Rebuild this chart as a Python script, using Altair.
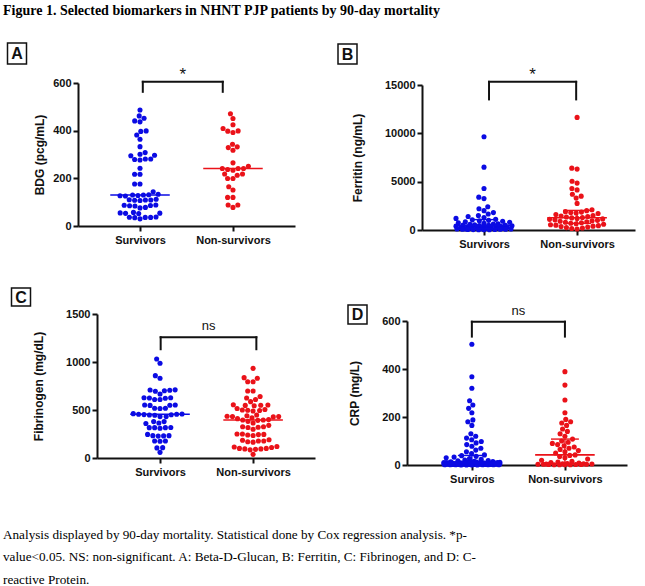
import math
import pandas as pd
import altair as alt

BLUE = "#0b0be3"
RED = "#ea1219"
FONT = "Liberation Sans"
SERIF = "Liberation Serif"
FIG_W, FIG_H = 645, 586

GROUPS = ["Survivors", "Non-survivors"]

# ---------------- data ----------------
BDG_SURV = [487, 462, 452, 441, 437, 399, 397, 382, 364, 333, 308, 301, 297, 295,
            281, 281, 279, 277, 242, 217, 217, 176, 176, 144, 133, 131, 130, 130,
            128, 127, 126, 112, 110, 109, 109, 108, 107, 88, 87, 86, 85, 84, 78, 76,
            57, 55, 54, 53, 52, 38, 37, 36, 36, 35, 30]
BDG_NONS = [471, 451, 425, 409, 399, 398, 392, 343, 332, 329, 318, 265, 251, 241,
            241, 241, 237, 234, 218, 218, 213, 199, 199, 165, 151, 120, 120, 88, 88, 78]

FER_SURV = [9650, 6500, 4300, 3400, 3250, 2400, 2200, 2000, 1800, 1650, 1500, 1400,
            1300, 1200, 1100, 1050, 1000, 950, 900, 850, 800, 750, 700, 650, 620,
            580, 550, 520, 500, 480, 450, 430, 400, 380, 360, 340, 320, 300, 280,
            260, 240, 220, 200, 180, 160, 150, 140, 120, 110, 100, 90, 80, 70, 60,
            50, 40, 30, 25, 20]
FER_NONS = [11650, 6400, 6300, 5050, 4850, 4300, 4150, 3700, 3500, 3300, 2750, 2100,
            2000, 1900, 1850, 1800, 1750, 1700, 1600, 1500, 1450, 1400, 1350, 1300,
            1250, 1200, 1150, 1100, 1050, 1000, 950, 900, 850, 800, 750, 700, 650,
            600, 550, 500, 450, 400, 350, 300, 250, 200, 150, 100]

FIB_SURV = [1031, 987, 858, 830, 710, 708, 705, 700, 695, 667, 628, 628, 625, 622,
            610, 610, 552, 552, 550, 548, 518, 518, 515, 462, 458, 455, 455, 452,
            450, 448, 445, 431, 431, 379, 379, 365, 360, 318, 316, 316, 316, 310,
            246, 233, 233, 230, 228, 177, 177, 175, 108, 105, 59]
FIB_NONS = [934, 837, 830, 795, 795, 698, 698, 640, 625, 610, 587, 555, 552, 550,
            548, 545, 515, 505, 500, 498, 495, 490, 448, 440, 435, 431, 431, 428,
            420, 410, 400, 396, 396, 392, 382, 365, 340, 326, 326, 320, 318, 300,
            250, 250, 246, 244, 240, 235, 190, 185, 177, 177, 170, 165, 120, 115,
            110, 100, 100, 95, 95, 90, 85, 38]

CRP_SURV = [503, 368, 320, 268, 250, 236, 218, 188, 180, 165, 130, 120, 112, 105,
            98, 92, 85, 78, 70, 62, 55, 48, 42, 39, 36, 33, 30, 27, 24, 21, 19, 17,
            15, 14, 13, 12, 12, 11, 10, 10, 9, 9, 8, 8, 8, 7, 7, 7, 6, 6, 6, 5, 5,
            5, 5, 4, 4, 4, 4, 3, 3, 3, 3, 2, 2, 2, 2, 1, 1, 1, 1, 1, 0.5, 0.5, 0.5,
            11, 10, 9, 8, 7, 6, 6, 5, 4, 4, 3, 3, 2, 2, 1, 1, 0.5]
CRP_NONS = [389, 333, 271, 218, 190, 180, 175, 165, 150, 140, 130, 120, 108, 100,
            95, 90, 85, 80, 75, 70, 65, 60, 55, 50, 42, 40, 35, 30, 25, 20, 15, 12,
            10, 8, 6, 5, 5, 4, 4, 3, 3, 3, 2, 2, 2, 1, 1, 1, 1]

TITLE = "Figure 1. Selected biomarkers in NHNT PJP patients by 90-day mortality"
CAPTION = ("Analysis displayed by 90-day mortality. Statistical done by Cox regression analysis. *p-\n"
           "value<0.05. NS: non-significant. A: Beta-D-Glucan, B: Ferritin, C: Fibrinogen, and D: C-\n"
           "reactive Protein.")


def swarm(vals, ppv, d=5.4, limit=28.0):
    """Beeswarm offsets (pixels) computed from the values."""
    ys = [v * ppv for v in vals]
    order = sorted(range(len(vals)), key=lambda i: ys[i])
    placed = []
    out = [0.0] * len(vals)
    for i in order:
        y = ys[i]
        near = [(px, py) for (px, py) in placed if abs(py - y) < d]
        cands = [0.0]
        for px, py in near:
            dx = math.sqrt(max(d * d - (py - y) ** 2, 0.0))
            cands += [px + dx, px - dx]
        ok = [c for c in cands if abs(c) <= limit + 1e-9 and
              all((c - px) ** 2 + (py - y) ** 2 >= d * d - 1e-6 for px, py in near)]
        if ok:
            x = min(ok, key=lambda c: (abs(c), c))
        else:
            grid = [limit * (k / 12.0 - 1.0) for k in range(25)]
            x = max(grid, key=lambda c: (min((c - px) ** 2 + (py - y) ** 2 for px, py in near), -abs(c)))
        placed.append((x, y))
        out[i] = x
    return out


def panel(surv, nons, xlabels, ytitle, yvals, xr, yr, xdom, tpad, bracket, sig, sig_size, iqr):
    """xr = pixel range of the x scale, yr = (bottom, top) pixel range of the y scale."""
    ymax = yvals[-1]
    W = xr[1] - xr[0]
    H = yr[0] - yr[1]
    ppv = H / ymax
    pxu = W / (xdom[1] - xdom[0])
    rows = []
    for g, vals in enumerate([surv, nons]):
        offs = swarm(vals, ppv)
        for v, o in zip(vals, offs):
            rows.append({"g": g, "v": v, "xp": g + o / pxu, "grp": GROUPS[g]})
    df = pd.DataFrame(rows)
    base = alt.Chart(df)
    color = alt.Color("grp:N", scale=alt.Scale(domain=GROUPS, range=[BLUE, RED]), legend=None)
    label_expr = "datum.value == 0 ? '%s' : '%s'" % (xlabels[0], xlabels[1])
    xscale = alt.Scale(domain=xdom, range=list(xr), nice=False, zero=False)
    yscale = alt.Scale(domain=[0, ymax], range=list(yr), nice=False)
    xaxis = alt.Axis(values=[0, 1], labelExpr=label_expr, title=None, labelPadding=3,
                     orient="bottom", offset=yr[0] - FIG_H)
    yaxis = alt.Axis(values=yvals, title=ytitle, titlePadding=tpad, format="d",
                     orient="left", offset=-xr[0])

    def X(f):
        return alt.X(f, scale=xscale, axis=xaxis)

    def Y(f):
        return alt.Y(f, scale=yscale, axis=yaxis)

    pts = base.mark_circle(size=26, opacity=1).encode(x=X("xp:Q"), y=Y("v:Q"), color=color)

    stats = base.transform_aggregate(
        med="median(v)", q1="q1(v)", q3="q3(v)", groupby=["g", "grp"]
    ).transform_calculate(
        xa="datum.g - 0.32", xb="datum.g + 0.32",
        xc="datum.g - 0.15", xd="datum.g + 0.15",
    )
    layers = [pts]
    layers.append(stats.mark_rule(strokeWidth=1.6).encode(
        x=X("xa:Q"), x2="xb:Q", y=Y("med:Q"), color=color))
    if iqr:
        layers.append(stats.mark_rule(strokeWidth=1.4).encode(
            x=X("xc:Q"), x2="xd:Q", y=Y("q1:Q"), color=color))
        layers.append(stats.mark_rule(strokeWidth=1.4).encode(
            x=X("xc:Q"), x2="xd:Q", y=Y("q3:Q"), color=color))
        layers.append(stats.mark_rule(strokeWidth=1.4).encode(
            x=X("g:Q"), y=Y("q1:Q"), y2="q3:Q", color=color))

    bx0, bx1, ytop, yleg, ysig = bracket
    br = alt.Chart(pd.DataFrame({"x0": [bx0], "x1": [bx1], "yt": [ytop], "yl": [yleg],
                                 "xm": [(bx0 + bx1) / 2], "ys": [ysig], "t": [sig]}))
    layers.append(br.mark_rule(strokeWidth=2, color="#111111", strokeCap="square").encode(
        x=X("x0:Q"), x2="x1:Q", y=Y("yt:Q")))
    layers.append(br.mark_rule(strokeWidth=2, color="#111111", strokeCap="square").encode(
        x=X("x0:Q"), y=Y("yl:Q"), y2="yt:Q"))
    layers.append(br.mark_rule(strokeWidth=2, color="#111111", strokeCap="square").encode(
        x=X("x1:Q"), y=Y("yl:Q"), y2="yt:Q"))
    layers.append(br.mark_text(font=FONT, fontSize=sig_size, color="#111111",
                               baseline="alphabetic", align="center").encode(
        x=X("xm:Q"), y=Y("ys:Q"), text="t:N"))
    return alt.layer(*layers)


def letter_box(letter, box):
    one = alt.Chart(pd.DataFrame({"t": [letter]}))
    rect = one.mark_rect(fill="white", stroke="#111111", strokeWidth=1.5).encode(
        x=alt.value(box[0]), x2=alt.value(box[1]), y=alt.value(box[2]), y2=alt.value(box[3]))
    txt = one.mark_text(font=FONT, fontSize=16, fontWeight="bold", color="#111111",
                        align="center", baseline="middle").encode(
        x=alt.value((box[0] + box[1]) / 2), y=alt.value((box[2] + box[3]) / 2 + 0.5),
        text="t:N")
    return [rect, txt]


pA = panel(BDG_SURV, BDG_NONS, GROUPS, "BDG (pcg/mL)", [0, 200, 400, 600],
           (78, 295), (226, 83), [-0.667, 1.667], 6, (0.03, 0.89, 605, 563, 612), "*", 17, False)
pB = panel(FER_SURV, FER_NONS, GROUPS, "Ferritin (ng/mL)", [0, 5000, 10000, 15000],
           (422, 635), (230, 85), [-0.666, 1.622], 20, (0.054, 0.99, 15330, 13510, 15500), "*", 17, True)
pC = panel(FIB_SURV, FIB_NONS, GROUPS, "Fibrinogen (mg/dL)", [0, 500, 1000, 1500],
           (97, 315), (458, 314), [-0.677, 1.665], 20, (0.007, 1.035, 1258, 1133, 1334), "ns", 13, False)
pD = panel(CRP_SURV, CRP_NONS, ["Surviros", "Non-survivors"], "CRP (mg/L)", [0, 200, 400, 600],
           (407, 627), (465, 321), [-0.697, 1.667], 20, (0.0, 1.0, 597, 535, 625), "ns", 13, True)

texts = []
texts += letter_box("A", (7.5, 26.5, 43, 64))
texts += letter_box("B", (338, 357, 44, 64))
texts += letter_box("C", (11.5, 30.5, 288, 306))
texts += letter_box("D", (348, 367, 305, 324))

title = alt.Chart(pd.DataFrame({"t": [TITLE]})).mark_text(
    font=SERIF, fontSize=14, fontWeight="bold", color="#000000",
    align="left", baseline="alphabetic").encode(x=alt.value(3), y=alt.value(15), text="t:N")
caption = alt.Chart(pd.DataFrame({"t": [CAPTION]})).mark_text(
    font=SERIF, fontSize=13.2, color="#000000", align="left", baseline="top",
    lineBreak="\n", lineHeight=22.5).encode(x=alt.value(3), y=alt.value(528.5), text="t:N")

chart = alt.layer(pA, pB, pC, pD, title, caption, *texts).resolve_scale(
    x="independent", y="independent"
).resolve_axis(
    x="independent", y="independent"
).properties(
    width=FIG_W, height=FIG_H,
    autosize=alt.AutoSizeParams(type="none"),
    padding=0,
    background="white",
).configure_view(stroke=None).configure_axis(
    grid=False,
    domainColor="#111111", domainWidth=2,
    tickColor="#111111", tickWidth=2, tickSize=5,
    labelFont=FONT, labelFontWeight="bold", labelFontSize=11, labelColor="#111111",
    labelPadding=2, labelFlush=False, labelOverlap=False,
    titleFont=FONT, titleFontWeight="bold", titleFontSize=12, titleColor="#111111",
)

chart.save("out.html", embed_options={"renderer": "svg", "actions": False})
